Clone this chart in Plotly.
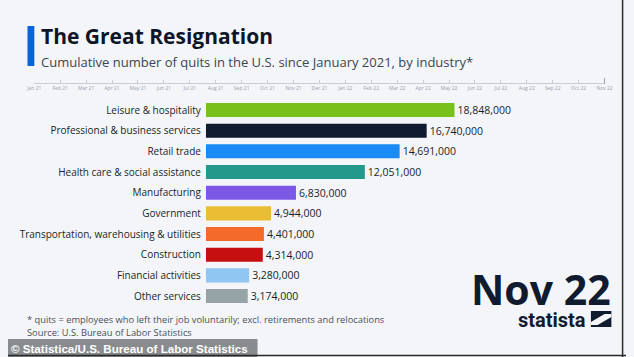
import plotly.graph_objects as go

W, H = 634, 357

industries = [
    "Leisure & hospitality",
    "Professional & business services",
    "Retail trade",
    "Health care & social assistance",
    "Manufacturing",
    "Government",
    "Transportation, warehousing & utilities",
    "Construction",
    "Financial activities",
    "Other services",
]
quits = [18848000, 16740000, 14691000, 12051000, 6830000,
         4944000, 4401000, 4314000, 3280000, 3174000]
months = ["Jan 21", "Feb 21", "Mar 21", "Apr 21", "May 21", "Jun 21", "Jul 21",
          "Aug 21", "Sep 21", "Oct 21", "Nov 21", "Dec 21", "Jan 22", "Feb 22",
          "Mar 22", "Apr 22", "May 22", "Jun 22", "Jul 22", "Aug 22", "Sep 22",
          "Oct 22", "Nov 22"]

bar_colors = ["#78c01a", "#111b2f", "#1a8af5", "#22998a", "#7c58e6",
              "#ebbd35", "#f46a2a", "#c50f10", "#8fc6f2", "#97a4a7"]

def px(x):
    return x / W

def py(y):
    return 1 - y / H

FONT = "Open Sans"
BG = "#f3f5f8"

fig = go.Figure()
fig.add_trace(go.Bar(
    x=quits, y=industries, orientation="h",
    marker=dict(color=bar_colors, line=dict(width=0)),
    width=0.68,
    text=[f"{v:,}" for v in quits], textposition="outside",
    textfont=dict(family=FONT, size=10.5, color="#1a1f29"),
    cliponaxis=False, hoverinfo="skip",
))
# timeline axis (decorative slider)
fig.add_trace(go.Scatter(
    x=[0, len(months) - 1], y=[0, 0], xaxis="x2", yaxis="y2",
    mode="markers", marker=dict(opacity=0), hoverinfo="skip", showlegend=False,
))

x0_px, px_per_m = 203, 13.53
x_max = 30e6
x_end_px = x0_px + px_per_m * x_max / 1e6

row0, step = 110, 20.67
y_top = row0 - step / 2
y_bot = row0 + step * (len(industries) - 0.5)

fig.update_layout(
    width=W, height=H, margin=dict(l=0, r=0, t=0, b=0),
    paper_bgcolor=BG, plot_bgcolor=BG, showlegend=False,
    bargap=0.3,
    xaxis=dict(domain=[px(x0_px), px(x_end_px)], range=[0, x_max],
               visible=False, fixedrange=True),
    yaxis=dict(domain=[py(y_bot), py(y_top)], autorange="reversed",
               showgrid=False, showline=False, zeroline=False, ticks="",
               ticklabelstandoff=4,
               tickfont=dict(family=FONT, size=10, color="#1a1f29")),
    xaxis2=dict(domain=[px(27), px(612)], range=[0, len(months) - 1],
                anchor="free", position=py(83), showline=True,
                linecolor="#c9cdd3", linewidth=1, showgrid=False,
                zeroline=False, ticks="inside", ticklen=3, tickcolor="#c9cdd3",
                tickvals=list(range(len(months))), ticktext=months,
                tickfont=dict(family=FONT, size=5, color="#9aa0a8"),
                fixedrange=True),
    yaxis2=dict(domain=[py(84), py(82)], visible=False, fixedrange=True),
)

shapes = []
# blue accent next to title
shapes.append(dict(type="rect", xref="paper", yref="paper",
                   x0=px(20), x1=px(27), y0=py(66), y1=py(26),
                   fillcolor="#0a63d8", line=dict(width=0)))
# end marker on timeline
shapes.append(dict(type="line", xref="paper", yref="paper",
                   x0=px(612), x1=px(612), y0=py(84), y1=py(78),
                   line=dict(color="#9aa0a8", width=1)))
# copyright band
shapes.append(dict(type="rect", xref="paper", yref="paper",
                   x0=0, x1=px(256), y0=0, y1=py(339),
                   fillcolor="rgba(128,130,134,0.92)", line=dict(width=0)))
# statista logo glyph
shapes.append(dict(type="rect", xref="paper", yref="paper",
                   x0=px(598), x1=px(619), y0=py(327), y1=py(311),
                   fillcolor="#111b2f", line=dict(width=0)))
shapes.append(dict(type="path", xref="paper", yref="paper",
                   path=(f"M {px(598)} {py(322)} L {px(612)} {py(314)} "
                         f"L {px(619)} {py(314)} L {px(619)} {py(317)} "
                         f"L {px(605)} {py(325)} L {px(598)} {py(325)} Z"),
                   fillcolor=BG, line=dict(width=0)))
# frame edges
shapes.append(dict(type="line", xref="paper", yref="paper",
                   x0=px(630.5), x1=px(630.5), y0=0, y1=1,
                   line=dict(color="#2a2a2a", width=1.5)))
shapes.append(dict(type="line", xref="paper", yref="paper",
                   x0=0, x1=1, y0=py(355.5), y1=py(355.5),
                   line=dict(color="#2a2a2a", width=1.5)))
fig.update_layout(shapes=shapes)

ann = []
def text(x, y, s, size, color, bold=False, xanchor="left", family=FONT):
    ann.append(dict(x=px(x), y=py(y), xref="paper", yref="paper",
                    text=f"<b>{s}</b>" if bold else s, showarrow=False,
                    xanchor=xanchor, yanchor="middle",
                    font=dict(family=family, size=size, color=color)))

text(32, 36, "The Great Resignation", 21, "#0c1628", bold=True)
text(32, 62, "Cumulative number of quits in the U.S. since January 2021, by industry*",
     13, "#3b4554")
text(17, 319, "* quits = employees who left their job voluntarily; excl. retirements and relocations",
     9.3, "#4a505a")
text(17, 332, "Source: U.S. Bureau of Labor Statistics", 9.3, "#4a505a")
text(1, 348, "© Statistica/U.S. Bureau of Labor Statistics", 11.6, "#ffffff",
     bold=True, family="Liberation Sans")
text(621, 289, "Nov 22", 41, "#111b2f", bold=True, xanchor="right")
text(595, 320, "statista", 20, "#111b2f", bold=True, xanchor="right", family="Roboto")
fig.update_layout(annotations=ann)

fig.write_html("out.html",
               config={"displayModeBar": False, "responsive": False},
               post_script="document.body.style.margin='0';"
                           "document.documentElement.style.overflow='hidden';"
                           "document.body.style.overflow='hidden';")
